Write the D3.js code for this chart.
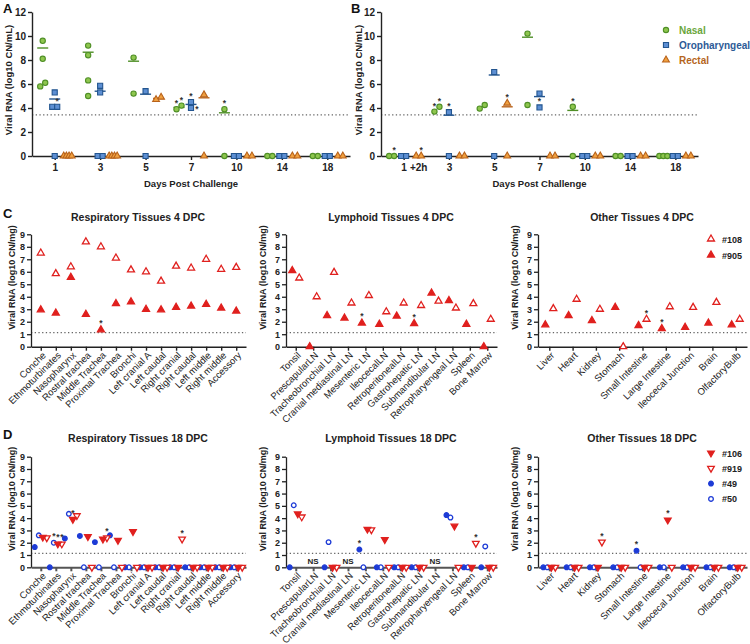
<!DOCTYPE html>
<html>
<head>
<meta charset="utf-8">
<script src="https://cdn.jsdelivr.net/npm/d3@7"></script>
<style>
body { margin: 0; background: #fff; }
svg text { font-family: "Liberation Sans", Arial, sans-serif; }
</style>
</head>
<body>
<svg id="chart" width="750" height="644"></svg>
<script>
// ---- swab data (panels A, B), log10 CN/mL ----
var days = ["1", "3", "5", "7", "10", "14", "18"]
var yTicksAB = [0, 2, 4, 6, 8, 10, 12]

var nasalA  = [[9.6, 8.1, 6.1, 5.8], [9.2, 8.4, 6.3, 5.0], [8.2, 5.2], [4.2, 3.9], [3.9, 0], [0, 0], [0, 0]]
var oroA    = [[5.3, 4.1, 4.1, 0], [5.85, 5.3, 0, 0], [5.4, 0], [4.5, 4.0], [0, 0], [0, 0], [0, 0]]
var rectalA = [[0, 0, 0, 0], [0, 0, 0, 0], [4.9, 4.7], [5.1, 0], [0, 0], [0, 0], [0, 0]]
var meanNasalA  = [9.0, 8.65, 7.9, 4.05, 3.6, null, null]
var meanOroA    = [4.75, 5.4, 5.15, 4.3, null, null, null]
var meanRectalA = [null, null, 4.8, 4.85, null, null, null]
var starsA = [["oro", "1", 4.1], ["nasal", "7", 4.2], ["nasal", "7", 3.9], ["oro", "7", 4.5], ["oro", "7", 4.0], ["nasal", "10", 3.9]]

var nasalB  = [[0, 0], [4.1, 3.7], [4.25, 3.95], [10.2, 4.25], [4.1, 0], [0, 0], [0, 0, 0]]
var oroB    = [[0, 0], [3.65, 0], [7.0, 0], [5.2, 4.05], [0, 0], [0, 0], [0, 0]]
var rectalB = [[0, 0], [0, 0], [4.4, 0], [0, 0], [0, 0], [0, 0], [0, 0]]
var meanNasalB  = [null, null, null, 9.9, 3.8, null, null]
var meanOroB    = [null, 3.4, 6.75, 4.95, null, null, null]
var meanRectalB = [null, null, 4.1, null, null, null, null]
var starsB = [["nasal", "1", 0], ["rectal", "1", 0], ["nasal", "3", 4.1], ["nasal", "3", 3.7], ["oro", "3", 3.65],
              ["rectal", "5", 4.4], ["oro", "7", 4.05], ["nasal", "10", 4.1]]
var lodSwab = 3.43

// ---- tissue data (panels C, D), log10 CN/mg ----
var respTissues = ["Conche", "Ethmoturbinates", "Nasopharynx", "Rostral trachea", "Middle Trachea", "Proximal Trachea",
  "Bronchi", "Left cranial A", "Left caudal", "Right cranial", "Right caudal", "Left middle", "Right middle", "Accessory"]
var lymphTissues = ["Tonsil", "PrescapularLN", "Tracheobronchial LN", "Cranial mediastinal LN", "Mesenteric LN", "IleocecalLN",
  "RetroperitonealLN", "Gastrohepatic LN", "Submandibular LN", "Retropharyengeal LN", "Spleen", "Bone Marrow"]
var otherTissues = ["Liver", "Heart", "Kidney", "Stomach", "Small Intestine", "Large Intestine", "Ileocecal Junction", "Brain", "OlfactoryBulb"]
var yTicksCD = [0, 1, 2, 3, 4, 5, 6, 7, 8, 9]

// 4 DPC: #108 (open) and #905 (filled)
var resp108  = [7.5, 5.85, 6.4, 8.4, 8.0, 7.1, 6.15, 6.0, 5.25, 6.45, 6.3, 7.0, 6.2, 6.35]
var resp905  = [2.95, 2.7, 5.55, 2.6, 1.35, 3.45, 3.6, 3.0, 2.95, 3.15, 3.25, 3.4, 3.1, 2.85]
var lymph108 = [5.5, 4.0, 5.95, 3.5, 4.1, 2.8, 3.5, 3.3, 3.65, 3.1, 3.45, 2.2]
var lymph905 = [6.1, 0, 2.5, 2.3, 1.9, 1.8, 2.45, 1.85, 4.3, 3.7, 1.8, 0]
var other108 = [3.05, 3.8, 3.0, 0, 2.2, 3.2, 3.15, 3.55, 2.2]
var other905 = [1.75, 2.5, 2.1, 3.15, 1.7, 1.45, 1.55, 1.9, 1.75]
var starsC = {
  resp: [["Middle Trachea", "905"]],
  lymph: [["Mesenteric LN", "905"], ["Gastrohepatic LN", "905"]],
  other: [["Small Intestine", "108"], ["Large Intestine", "905"]]
}

// 18 DPC: #106, #919, #49, #50 (null = not sampled, NS)
var resp49  = [1.65, 0, 2.35, 2.55, 2.05, 2.6, 0, 0, 0, 0, 0, 0, 0, 0]
var resp50  = [2.6, 2.0, 4.35, 0, 0, 0, 0, 0, 0, 0, 0, 0, 0, 0]
var resp106 = [2.45, 1.9, 3.9, 2.5, 2.3, 2.2, 2.9, 0, 0, 0, 0, 0, 0, 0]
var resp919 = [2.4, 1.9, 4.2, 0, 2.4, 0, 0, 0, 0, 2.3, 0, 0, 0, 0]
var lymph49  = [0, null, 0, null, 1.45, 0, 0, 0, null, 4.25, 0, 0]
var lymph50  = [5.05, null, 2.05, null, 0, 0, 0, 0, null, 4.05, 0, 1.7]
var lymph106 = [4.35, null, 0, null, 3.1, 2.25, 0, 0, null, 3.35, 0, 0]
var lymph919 = [4.1, null, 0, null, 3.05, 0, 0, 0, null, 0, 1.95, 0]
var other49  = [0, 0, 0, 0, 1.35, 0, 0, 0, 0]
var other50  = [0, 0, 0, 0, 0, 0, 0, 0, 0]
var other106 = [0, 0, 0, 0, 0, 3.85, 0, 0, 0]
var other919 = [0, 0, 2.05, 0, 0, 0, 0, 0, 0]
var starsD = {
  resp: [["Ethmoturbinates", "50"], ["Ethmoturbinates", "106"], ["Ethmoturbinates", "919"], ["Nasopharynx", "106"],
         ["Middle Trachea", "919"], ["Right cranial", "919"]],
  lymph: [["Mesenteric LN", "49"], ["Spleen", "919"]],
  other: [["Kidney", "919"], ["Small Intestine", "49"], ["Large Intestine", "106"]]
}
var nsD = ["PrescapularLN", "Cranial mediastinal LN", "Submandibular LN"]
var lodTissue4 = 1.12, lodTissue18 = 1.14

// ---- styles ----
var C = {
  nasal:  {fill: "#8ec64e", stroke: "#4f8f26", text: "#6aa63c", shape: d3.symbolCircle, size: 22},
  oro:    {fill: "#5d8fd3", stroke: "#23558f", text: "#2d5a96", shape: d3.symbolSquare, size: 26},
  rectal: {fill: "#f0a040", stroke: "#b8621a", text: "#b5651d", shape: d3.symbolTriangle, size: 20}
}
var red = "#e0201e", blue = "#1d3bd6"

var svg = d3.select("#chart")

function lodLine(g, x0, x1, y) {
  g.append("line").attr("x1", x0).attr("x2", x1).attr("y1", y).attr("y2", y)
    .attr("stroke", "#666").attr("stroke-width", 1.2).attr("stroke-dasharray", "1.3,2.4")
}

function yTitle(g, x, y, txt, fs) {
  g.append("text").attr("transform", "translate(" + x + "," + y + ") rotate(-90)")
    .attr("text-anchor", "middle").attr("dy", "0.35em")
    .style("font-size", fs + "px").style("font-weight", "bold").attr("fill", "#222").text(txt)
}

function star(g, x, y) {
  g.append("text").attr("x", x).attr("y", y).attr("text-anchor", "middle")
    .style("font-size", "8.5px").style("font-weight", "bold").attr("fill", "#333").text("*")
}

// spread points with similar values sideways like a scatter dot plot
function spread(vals, y) {
  var pts = vals.map(function(v, i) { return {v: v, i: i, dx: 0} })
  var sorted = pts.slice().sort(function(a, b) { return b.v - a.v })
  var groups = [], cur = []
  sorted.forEach(function(p) {
    if (cur.length && Math.abs(y(cur[cur.length - 1].v) - y(p.v)) > 5) { groups.push(cur); cur = [] }
    cur.push(p)
  })
  if (cur.length) groups.push(cur)
  groups.forEach(function(gr) {
    var n = gr.length
    if (n < 2) return
    var s = n == 2 ? 5 : 8 / (n - 1)
    gr.sort(function(a, b) { return a.v - b.v })
    gr.forEach(function(p, k) { p.dx = (k - (n - 1) / 2) * s })
  })
  return pts
}

function swabPanel(o) {
  var g = svg.append("g")
  var x = d3.scalePoint().domain(days).range([o.x0, o.x1]).padding(0.5)
  var y = d3.scaleLinear().domain([0, 12]).range([156, 12])

  lodLine(g, o.x0, o.x1, y(lodSwab))

  var ya = g.append("g").attr("transform", "translate(" + o.x0 + ",0)")
    .call(d3.axisLeft(y).tickValues(yTicksAB).tickSize(4).tickSizeOuter(0).tickPadding(2))
  var xa = g.append("g").attr("transform", "translate(0," + y(0) + ")")
    .call(d3.axisBottom(x).tickSize(4).tickSizeOuter(0).tickPadding(4))
  ;[ya, xa].forEach(function(a) {
    a.selectAll("path,line").attr("stroke", "#222").attr("stroke-width", 1.4)
    a.selectAll("text").style("font-size", "10px").style("font-weight", "bold").attr("fill", "#222")
  })
  if (o.extraTick) {
    g.append("text").attr("x", x("1") + 15).attr("y", y(0) + 15).attr("text-anchor", "middle")
      .style("font-size", "10px").style("font-weight", "bold").attr("fill", "#222").text(o.extraTick)
  }

  var series = [
    {key: "nasal", vals: o.nasal, mean: o.meanNasal, dx: -12},
    {key: "oro", vals: o.oro, mean: o.meanOro, dx: 0},
    {key: "rectal", vals: o.rectal, mean: o.meanRectal, dx: 13}
  ]
  series.forEach(function(s) {
    var st = C[s.key]
    days.forEach(function(d, di) {
      var cx = x(d) + s.dx + (s.key == "rectal" && o.extraTick && d == "1" ? 2 : 0)
      if (s.mean[di] != null) {
        g.append("line").attr("x1", cx - 5.5).attr("x2", cx + 5.5)
          .attr("y1", y(s.mean[di])).attr("y2", y(s.mean[di]))
          .attr("stroke", st.stroke).attr("stroke-width", 1.4)
      }
      var pts = spread(s.vals[di], y)
      pts.forEach(function(p) {
        g.append("path").attr("d", d3.symbol().type(st.shape).size(st.size)())
          .attr("transform", "translate(" + (cx + p.dx) + "," + y(p.v) + ")")
          .attr("fill", st.fill).attr("stroke", st.stroke).attr("stroke-width", 1.1)
      })
      // asterisks: above the point, or beside it when another marked point sits just above
      var marks = o.stars.filter(function(m) { return m[0] == s.key && m[1] == d })
      var placed = []
      marks.forEach(function(m) {
        var hit = pts.filter(function(p) { return p.v == m[2] })
        var p = hit[hit.length - 1]
        if (!p) return
        var px = cx + p.dx, py = y(p.v)
        var crowded = placed.some(function(q) { return Math.abs(q[0] - px) < 5 && Math.abs(q[1] - py) < 10 })
        if (crowded) star(g, px + 6, py + 4)
        else star(g, px, py - 3)
        placed.push([px, py])
      })
    })
  })

  yTitle(g, o.yTitleX, 80, "Viral RNA (log10 CN/mL)", 9.5)
  g.append("text").attr("x", (o.x0 + o.x1) / 2 + 0).attr("y", 187).attr("text-anchor", "middle")
    .style("font-size", "9.5px").style("font-weight", "bold").attr("fill", "#222").text("Days Post Challenge")
  g.append("text").attr("x", o.letterX).attr("y", 13).style("font-size", "13px").style("font-weight", "bold")
    .attr("fill", "#111").text(o.letter)

  if (o.legend) {
    ["nasal", "oro", "rectal"].forEach(function(k, i) {
      var st = C[k], ly = 30 + i * 15
      g.append("path").attr("d", d3.symbol().type(st.shape).size(st.size)())
        .attr("transform", "translate(666," + ly + ")")
        .attr("fill", st.fill).attr("stroke", st.stroke).attr("stroke-width", 1.1)
      g.append("text").attr("x", 679).attr("y", ly + 3.5).style("font-size", "10px").style("font-weight", "bold")
        .attr("fill", st.text).text({nasal: "Nasal", oro: "Oropharyngeal", rectal: "Rectal"}[k])
    })
  }
}

swabPanel({x0: 32, x1: 350, letter: "A", letterX: 3, yTitleX: 9,
  nasal: nasalA, oro: oroA, rectal: rectalA, meanNasal: meanNasalA, meanOro: meanOroA, meanRectal: meanRectalA, stars: starsA})
swabPanel({x0: 381, x1: 698, letter: "B", letterX: 351, yTitleX: 359, extraTick: "+2h", legend: true,
  nasal: nasalB, oro: oroB, rectal: rectalB, meanNasal: meanNasalB, meanOro: meanOroB, meanRectal: meanRectalB, stars: starsB})

// ---- tissue panels ----
var cols = {
  resp:  {cats: respTissues, x0: 31, x1: 246, pad: 0.65, yTitleX: 12, titleX: 138},
  lymph: {cats: lymphTissues, x0: 286, x1: 497, pad: 0.56, yTitleX: 263, titleX: 391},
  other: {cats: otherTissues, x0: 538, x1: 747, pad: 0.485, yTitleX: 515, titleX: 642}
}

var triDown = d3.symbol().type(d3.symbolTriangle).size(19)()
var triUp = d3.symbol().type(d3.symbolTriangle).size(21)()
var circ = d3.symbol().type(d3.symbolCircle).size(17)()

function tissuePanel(o) {
  var col = cols[o.col]
  var g = svg.append("g")
  var x = d3.scalePoint().domain(col.cats).range([col.x0, col.x1]).padding(col.pad)
  var y = d3.scaleLinear().domain([0, 9]).range([o.yBot, o.yTop])

  lodLine(g, col.x0, col.x1, y(o.lod))

  var ya = g.append("g").attr("transform", "translate(" + col.x0 + ",0)")
    .call(d3.axisLeft(y).tickValues(yTicksCD).tickSize(4).tickSizeOuter(0).tickPadding(2))
  ya.selectAll("path,line").attr("stroke", "#222").attr("stroke-width", 1.3)
  ya.selectAll("text").style("font-size", "9px").style("font-weight", "bold").attr("fill", "#222")

  var xa = g.append("g").attr("transform", "translate(0," + o.yBot + ")")
    .call(d3.axisBottom(x).tickSize(4).tickSizeOuter(0))
  xa.selectAll("path,line").attr("stroke", o.axisColor).attr("stroke-width", o.axisWidth)
  xa.selectAll("text").attr("text-anchor", "end").attr("transform", "translate(-1,3) rotate(-45)")
    .attr("dy", "0.5em").attr("y", 4).attr("x", 0)
    .style("font-size", "9.5px").attr("fill", "#222")

  o.series.forEach(function(s) {
    col.cats.forEach(function(c, ci) {
      var v = s.vals[ci]
      if (v == null) return
      var cx = x(c) + s.dx, cy = y(v)
      g.append("path").attr("d", s.path)
        .attr("transform", "translate(" + cx + "," + cy + ")" + (s.down ? " rotate(180)" : ""))
        .attr("fill", s.fill).attr("stroke", s.stroke).attr("stroke-width", 1.3)
      var marked = o.stars.some(function(m) { return m[0] == c && m[1] == s.key })
      if (marked) star(g, cx, cy - 3.5)
    })
  })

  ;(o.ns || []).forEach(function(c) {
    g.append("text").attr("x", x(c)).attr("y", o.yBot - 3).attr("text-anchor", "middle")
      .style("font-size", "8px").style("font-weight", "bold").attr("fill", "#222").text("NS")
  })

  yTitle(g, col.yTitleX, (o.yTop + o.yBot) / 2 - 13, "Viral RNA (log10 CN/mg)", 9)
  g.append("text").attr("x", col.titleX).attr("y", o.titleY).attr("text-anchor", "middle")
    .style("font-size", "10.5px").style("font-weight", "bold").attr("fill", "#222").text(o.title)
  if (o.letter) {
    g.append("text").attr("x", 3).attr("y", o.titleY - 3).style("font-size", "13px").style("font-weight", "bold")
      .attr("fill", "#111").text(o.letter)
  }
  if (o.legend) {
    o.series.slice().reverse().forEach(function(s, i) {
      var ly = o.legendY + i * o.legendStep
      g.append("path").attr("d", s.path)
        .attr("transform", "translate(711," + ly + ")" + (s.down ? " rotate(180)" : ""))
        .attr("fill", s.fill).attr("stroke", s.stroke).attr("stroke-width", 1.3)
      g.append("text").attr("x", 722).attr("y", ly + 3.5).style("font-size", "9px").style("font-weight", "bold")
        .attr("fill", "#222").text("#" + s.key)
    })
  }
}

function series4(vals905, vals108, dx) {
  return [
    {key: "905", vals: vals905, path: triUp, fill: red, stroke: red, dx: -dx},
    {key: "108", vals: vals108, path: triUp, fill: "#fff", stroke: red, dx: dx}
  ]
}
function series18(v49, v50, v106, v919) {
  return [
    {key: "50", vals: v50, path: circ, fill: "#fff", stroke: blue, dx: -2},
    {key: "49", vals: v49, path: circ, fill: blue, stroke: blue, dx: -6},
    {key: "919", vals: v919, path: triDown, fill: "#fff", stroke: red, dx: 6, down: true},
    {key: "106", vals: v106, path: triDown, fill: red, stroke: red, dx: 2, down: true}
  ]
}

var c4 = {yTop: 234.3, yBot: 346.7, lod: lodTissue4, titleY: 221, axisColor: "#222", axisWidth: 1.4}
var d18 = {yTop: 456.7, yBot: 567.3, lod: lodTissue18, titleY: 442, axisColor: "#555", axisWidth: 2}

tissuePanel(Object.assign({}, c4, {col: "resp", letter: "C", title: "Respiratory Tissues 4 DPC",
  series: series4(resp905, resp108, 0), stars: starsC.resp}))
tissuePanel(Object.assign({}, c4, {col: "lymph", title: "Lymphoid Tissues 4 DPC",
  series: series4(lymph905, lymph108, 3.5), stars: starsC.lymph}))
tissuePanel(Object.assign({}, c4, {col: "other", title: "Other Tissues 4 DPC",
  series: series4(other905, other108, 4), stars: starsC.other, legend: true, legendY: 239, legendStep: 16}))

tissuePanel(Object.assign({}, d18, {col: "resp", letter: "D", title: "Respiratory Tissues 18 DPC",
  series: series18(resp49, resp50, resp106, resp919), stars: starsD.resp}))
tissuePanel(Object.assign({}, d18, {col: "lymph", title: "Lymphoid Tissues 18 DPC",
  series: series18(lymph49, lymph50, lymph106, lymph919), stars: starsD.lymph, ns: nsD}))
tissuePanel(Object.assign({}, d18, {col: "other", title: "Other Tissues 18 DPC",
  series: series18(other49, other50, other106, other919), stars: starsD.other, legend: true, legendY: 453, legendStep: 15.3}))
</script>
</body>
</html>
